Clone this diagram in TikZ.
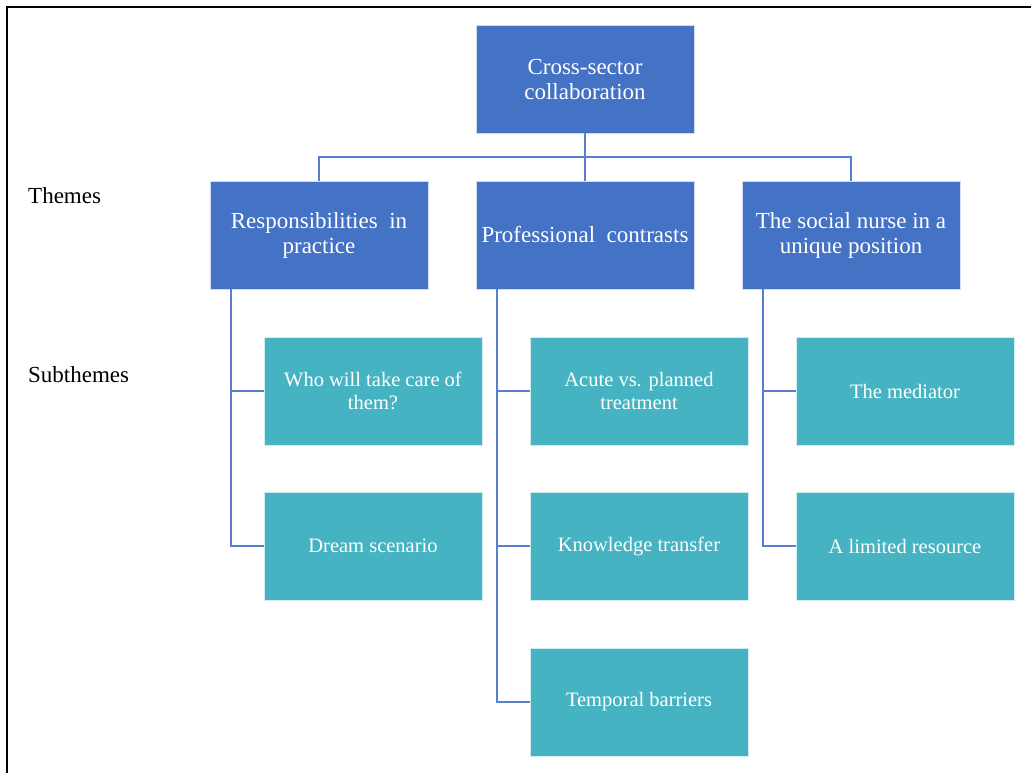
\documentclass[tikz,border=0pt]{standalone}
\usepackage{fontspec}
\setmainfont{Liberation Serif}
\usetikzlibrary{positioning}
\definecolor{ThemeBlue}{HTML}{4472C4}
\definecolor{SubTeal}{HTML}{45B3C2}
\definecolor{LinkBlue}{HTML}{5A7FCC}

\begin{document}
\begin{tikzpicture}[
  x=1pt, y=-1pt,
  node distance=48pt and 48pt,
  theme/.style={draw=white!75!ThemeBlue, fill=ThemeBlue, line width=0.8pt, minimum width=218pt, minimum height=108pt, inner sep=0pt, outer sep=0pt, align=center, text=white, font=\fontsize{23}{25}\selectfont},
  subtheme/.style={draw=white!75!SubTeal, fill=SubTeal, line width=0.8pt, minimum width=218pt, minimum height=108pt, inner sep=0pt, outer sep=0pt, align=center, text=white, font=\fontsize{20.5}{23}\selectfont},
  level/.style={anchor=base west, inner sep=0pt, font=\fontsize{23}{25}\selectfont},
  link/.style={draw=LinkBlue, line width=1.6pt}
]
\useasboundingbox (0,0) rectangle (1031,773);
\draw[line width=2.4pt] (7,773) -- (7,7) -- (1031,7);
% tree
\node[theme] (root) at (585,79) {Cross-sector\\collaboration};
\node[theme, below=of root] (contrasts) {Professional\enspace contrasts};
\node[theme, left=of contrasts] (practice) {Responsibilities\enspace in\\practice};
\node[theme, right=of contrasts] (nurse) {The social nurse in a\\unique position};
\node[subtheme, below=of practice, xshift=54pt] (care) {Who will take care of\\them?};
\node[subtheme, below=47pt of care] (dream) {Dream scenario};
\node[subtheme, below=of contrasts, xshift=54pt] (acute) {Acute vs. planned\\treatment};
\node[subtheme, below=47pt of acute] (knowledge) {Knowledge transfer};
\node[subtheme, below=of knowledge] (temporal) {Temporal barriers};
\node[subtheme, below=of nurse, xshift=54pt] (mediator) {The mediator};
\node[subtheme, below=47pt of mediator] (resource) {A limited resource};
% labels
\node[level] (themes) at (28,203) {Themes};
\node[level] (subthemes) at (28,382) {Subthemes};
% connectors
\coordinate (bar) at (585,157);
\draw[link] (root) -- (bar);
\draw[link] (practice.north) |- (bar) -| (nurse.north);
\draw[link] (bar) -- (contrasts.north);
\draw[link] ([xshift=21pt]practice.south west) |- (care.west);
\draw[link] ([xshift=21pt]practice.south west) |- (dream.west);
\draw[link] ([xshift=21pt]contrasts.south west) |- (acute.west);
\draw[link] ([xshift=21pt]contrasts.south west) |- (knowledge.west);
\draw[link] ([xshift=21pt]contrasts.south west) |- (temporal.west);
\draw[link] ([xshift=21pt]nurse.south west) |- (mediator.west);
\draw[link] ([xshift=21pt]nurse.south west) |- (resource.west);
\end{tikzpicture}
\end{document}
